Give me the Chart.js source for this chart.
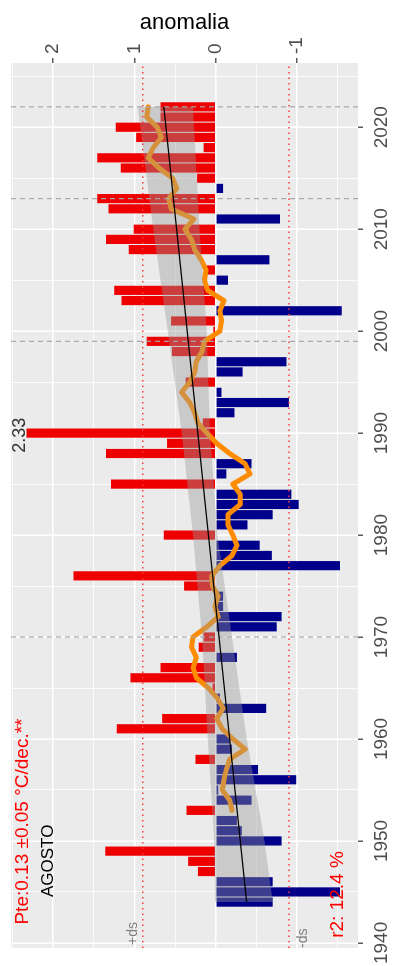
<!DOCTYPE html>
<html>
<head>
<meta charset="utf-8">
<script src="https://cdn.jsdelivr.net/npm/chart.js@4"></script>
<style>
  html, body { margin: 0; padding: 0; background: #fff; overflow: hidden; }
  body { width: 398px; height: 966px; position: relative; }
  /* the chart is drawn lying down (years left to right) and turned a quarter turn */
  #chart { position: absolute; left: 0; top: 0; transform-origin: 0 0; transform: translate(0, 966px) rotate(-90deg); }
</style>
</head>
<body>
<canvas id="chart" width="966" height="398"></canvas>
<script>
Chart.defaults.font.family = '"Liberation Sans", Arial, sans-serif';

// yearly anomaly (bars)
const years = [
  1944, 1945, 1946, 1947, 1948, 1949,
  1950, 1951, 1952, 1953, 1954, 1955, 1956, 1957, 1958, 1959,
  1960, 1961, 1962, 1963, 1964, 1965, 1966, 1967, 1968, 1969,
  1970, 1971, 1972, 1973, 1974, 1975, 1976, 1977, 1978, 1979,
  1980, 1981, 1982, 1983, 1984, 1985, 1986, 1987, 1988, 1989,
  1990, 1991, 1992, 1993, 1994, 1995, 1996, 1997, 1998, 1999,
  2000, 2001, 2002, 2003, 2004, 2005, 2006, 2007, 2008, 2009,
  2010, 2011, 2012, 2013, 2014, 2015, 2016, 2017, 2018, 2019,
  2020, 2021, 2022
];
const anomaly = [
  -0.70, -1.53, -0.70, 0.22, 0.34, 1.36,
  -0.81, -0.32, -0.26, 0.36, -0.44, -0.03, -0.99, -0.52, 0.25, -0.20,
  -0.17, 1.22, 0.66, -0.62, -0.05, 0.04, 1.05, 0.68, -0.26, 0.21,
  0.15, -0.75, -0.81, -0.09, -0.09, 0.39, 1.75, -1.53, -0.69, -0.54,
  0.64, -0.39, -0.70, -1.02, -0.93, 1.29, -0.13, -0.44, 1.35, 0.60,
  2.33, 0.16, -0.23, -0.90, -0.07, 0.37, -0.33, -0.87, 0.54, 0.85,
  0.03, 0.55, -1.55, 1.16, 1.25, -0.15, 0.11, -0.66, 1.07, 1.35,
  1.01, -0.79, 1.32, 1.46, -0.09, 0.23, 1.17, 1.46, 0.15, 0.98,
  1.23, 0.68, 0.68
];

// moving average (orange)
const maYears = [
  1953, 1954, 1955, 1956, 1957, 1958, 1959,
  1960, 1961, 1962, 1963, 1964, 1965, 1966, 1967, 1968, 1969,
  1970, 1971, 1972, 1973, 1974, 1975, 1976, 1977, 1978, 1979,
  1980, 1981, 1982, 1983, 1984, 1985, 1986, 1987, 1988, 1989,
  1990, 1991, 1992, 1993, 1994, 1995, 1996, 1997, 1998, 1999,
  2000, 2001, 2002, 2003, 2004, 2005, 2006, 2007, 2008, 2009,
  2010, 2011, 2012, 2013, 2014, 2015, 2016, 2017, 2018, 2019,
  2020, 2021, 2022
];
const maValues = [
  -0.20, -0.17, -0.08, -0.10, -0.13, -0.17, -0.36,
  -0.21, -0.08, -0.01, -0.09, -0.02, 0.09, 0.24, 0.28, 0.24, 0.30,
  0.28, 0.11, -0.03, 0.01, -0.03, 0.04, 0.05, -0.05, -0.20, -0.26,
  -0.21, -0.15, -0.15, -0.30, -0.30, -0.21, -0.42, -0.36, -0.17, -0.01,
  0.11, 0.22, 0.26, 0.32, 0.42, 0.32, 0.26, 0.24, 0.17, 0.14,
  -0.05, -0.07, -0.05, -0.10, 0.10, 0.14, 0.12, 0.18, 0.26, 0.30,
  0.38, 0.27, 0.55, 0.58, 0.48, 0.53, 0.70, 0.83, 0.77, 0.67,
  0.72, 0.85, 0.83
];

// linear trend and its band
const trendYears = [1944, 2022];
const trendValues = [-0.38, 0.64];
const bandYears = [1944, 1950, 1960, 1970, 1980, 1990, 2000, 2010, 2022];
const bandUpper = [0.01, 0.02, 0.10, 0.17, 0.28, 0.42, 0.59, 0.77, 0.96];
const bandLower = [-0.70, -0.60, -0.38, -0.20, -0.02, 0.07, 0.11, 0.20, 0.28];

// standard deviation and break years
const dsValue = 0.90;
const breakYears = [1970, 1999, 2013, 2022];

// axes
const yearRange = [1939.5, 2026.3];
const yearTicks = [1940, 1950, 1960, 1970, 1980, 1990, 2000, 2010, 2020];
const yearGrid = [1940, 1945, 1950, 1955, 1960, 1965, 1970, 1975, 1980, 1985, 1990, 1995, 2000, 2005, 2010, 2015, 2020, 2025];
const anomalyRange = [-1.75, 2.52];
const anomalyTicks = [-1, 0, 1, 2];
const anomalyGrid = [-1.5, -1, -0.5, 0, 0.5, 1, 1.5, 2, 2.5];

const toPoints = (xs, ys) => xs.map((x, i) => ({x: x, y: ys[i]}));

// grey panel behind the plot
const panelPlugin = {
    id: 'panel',
    beforeDraw(chart) {
        const {ctx, chartArea: a} = chart;
        ctx.save();
        ctx.fillStyle = '#EBEBEB';
        ctx.fillRect(a.left, a.top, a.right - a.left, a.bottom - a.top);
        ctx.restore();
    }
};

// text notes placed in data coordinates
const notesPlugin = {
    id: 'notes',
    afterDraw(chart) {
        const {ctx, scales: {x, y}} = chart;
        const notes = [
            {text: 'Pte:0.13 ±0.05 °C/dec.**', year: 1941.8, value: 2.31, color: '#FF0000', size: 19, align: 'left'},
            {text: 'AGOSTO', year: 1944.5, value: 2.0, color: '#000000', size: 17, align: 'left'},
            {text: 'r2: 12.4 %', year: 1940.5, value: -1.56, color: '#FF0000', size: 19, align: 'left'},
            {text: '+ds', year: 1939.8, value: 0.97, color: '#7F7F7F', size: 14, align: 'left'},
            {text: '-ds', year: 1939.5, value: -1.12, color: '#7F7F7F', size: 14, align: 'left'},
            {text: '2.33', year: 1989.8, value: 2.35, color: '#333333', size: 18, align: 'center'}
        ];
        ctx.save();
        ctx.textBaseline = 'alphabetic';
        notes.forEach(n => {
            ctx.font = n.size + 'px "Liberation Sans", Arial, sans-serif';
            ctx.fillStyle = n.color;
            ctx.textAlign = n.align;
            ctx.fillText(n.text, x.getPixelForValue(n.year), y.getPixelForValue(n.value));
        });
        ctx.restore();
    }
};

const isMajorYear = v => yearTicks.includes(v);
const isMajorAnomaly = v => anomalyTicks.includes(v);

new Chart(document.getElementById('chart'), {
    type: 'bar',
    data: {
        datasets: [
            {
                type: 'line', label: 'tendencia',
                data: toPoints(trendYears, trendValues),
                borderColor: '#000000', borderWidth: 1.3, pointRadius: 0, order: 1
            },
            {
                type: 'line', label: '+ds',
                data: [{x: yearRange[0], y: dsValue}, {x: yearRange[1], y: dsValue}],
                borderColor: '#FF3B3B', borderDash: [1.5, 4], borderWidth: 1.5, pointRadius: 0, order: 2
            },
            {
                type: 'line', label: '-ds',
                data: [{x: yearRange[0], y: -dsValue}, {x: yearRange[1], y: -dsValue}],
                borderColor: '#FF3B3B', borderDash: [1.5, 4], borderWidth: 1.5, pointRadius: 0, order: 2
            },
            ...breakYears.map(yr => ({
                type: 'line', label: 'corte ' + yr,
                data: [{x: yr, y: anomalyRange[0]}, {x: yr, y: anomalyRange[1]}],
                borderColor: '#A8A8A8', borderDash: [5, 4], borderWidth: 1.2, pointRadius: 0, order: 2
            })),
            {
                type: 'line', label: 'banda sup',
                data: toPoints(bandYears, bandUpper),
                borderColor: 'rgba(0,0,0,0)', borderWidth: 0, pointRadius: 0,
                fill: '+1', backgroundColor: 'rgba(153,153,153,0.4)', order: 3
            },
            {
                type: 'line', label: 'banda inf',
                data: toPoints(bandYears, bandLower),
                borderColor: 'rgba(0,0,0,0)', borderWidth: 0, pointRadius: 0, fill: false, order: 3
            },
            {
                type: 'line', label: 'media movil',
                data: toPoints(maYears, maValues),
                borderColor: '#FF8C00', borderWidth: 5, pointRadius: 0,
                borderJoinStyle: 'round', borderCapStyle: 'round', order: 4
            },
            {
                type: 'bar', label: 'anomalia',
                data: toPoints(years, anomaly),
                backgroundColor: c => (c.raw && c.raw.y >= 0) ? '#EE0000' : '#00008B',
                categoryPercentage: 1, barPercentage: 0.9, order: 5
            }
        ]
    },
    options: {
        responsive: false,
        animation: false,
        devicePixelRatio: 1,
        layout: { padding: { left: 18, top: 11, right: 0, bottom: 0 } },
        plugins: {
            legend: { display: false },
            tooltip: { enabled: false }
        },
        scales: {
            x: {
                type: 'linear', position: 'bottom',
                min: yearRange[0], max: yearRange[1], offset: false,
                afterBuildTicks: s => { s.ticks = yearGrid.map(v => ({value: v})); },
                afterFit: s => { s.height = 40; s.paddingLeft = 0; s.paddingRight = 0; },
                ticks: {
                    autoSkip: false, maxRotation: 0, minRotation: 0, padding: 7,
                    color: '#4D4D4D', font: { size: 19 },
                    callback: v => isMajorYear(v) ? String(v) : ''
                },
                grid: {
                    offset: false, color: '#FFFFFF',
                    lineWidth: c => isMajorYear(c.tick.value) ? 1.6 : 0.8,
                    tickColor: c => isMajorYear(c.tick.value) ? '#333333' : 'rgba(0,0,0,0)',
                    tickLength: 5, tickWidth: 1.2
                },
                border: { display: false }
            },
            y: {
                type: 'linear', position: 'right',
                min: anomalyRange[0], max: anomalyRange[1],
                afterBuildTicks: s => { s.ticks = anomalyGrid.map(v => ({value: v})); },
                afterFit: s => { s.width = 63; s.paddingTop = 0; s.paddingBottom = 0; },
                ticks: {
                    autoSkip: false, padding: 4,
                    color: '#4D4D4D', font: { size: 19 },
                    callback: v => isMajorAnomaly(v) ? String(v) : ''
                },
                grid: {
                    color: '#FFFFFF',
                    lineWidth: c => isMajorAnomaly(c.tick.value) ? 1.6 : 0.8,
                    tickColor: c => isMajorAnomaly(c.tick.value) ? '#333333' : 'rgba(0,0,0,0)',
                    tickLength: 5, tickWidth: 1.2
                },
                border: { display: false },
                title: {
                    display: true, text: 'anomalia', color: '#000000',
                    font: { size: 22 }, padding: { top: 10, bottom: 0 }
                }
            }
        }
    },
    plugins: [panelPlugin, notesPlugin]
});
</script>
</body>
</html>
